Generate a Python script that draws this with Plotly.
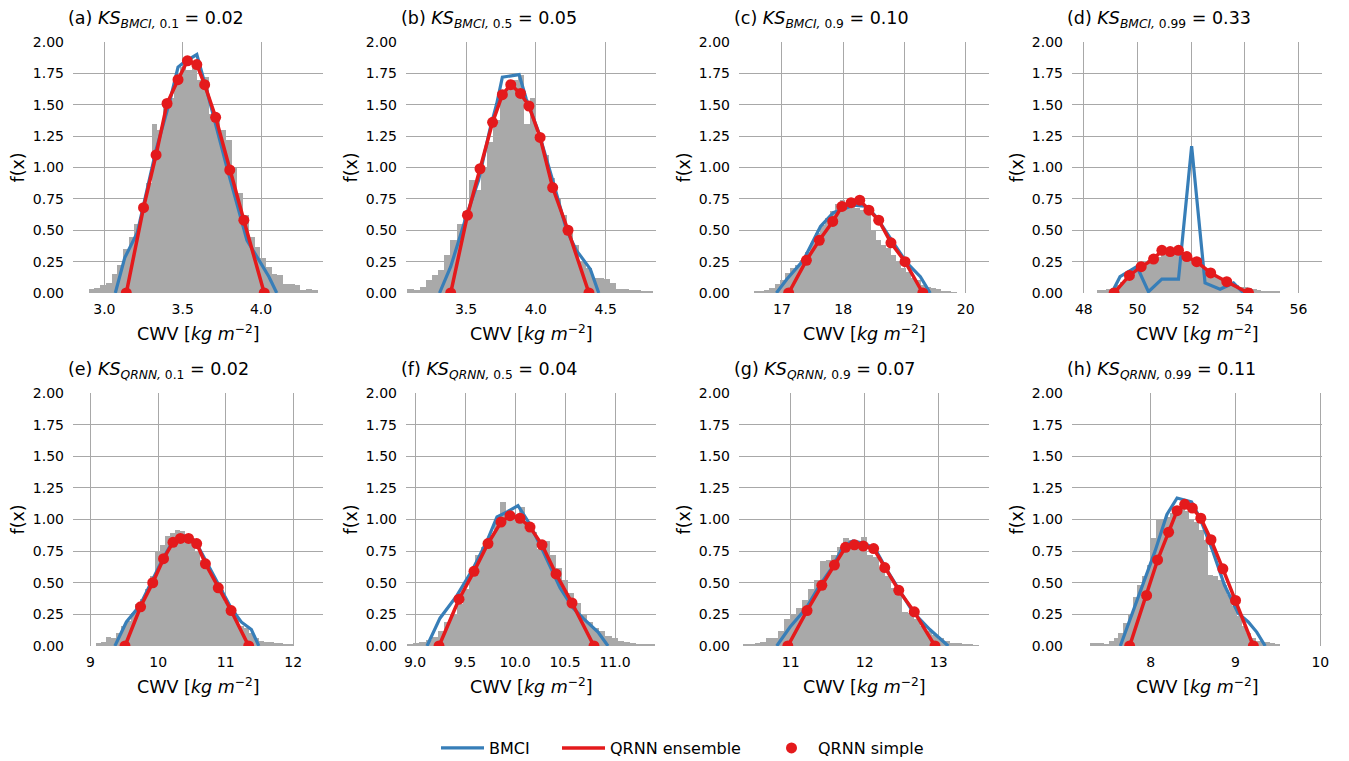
import numpy as np
import plotly.graph_objects as go
from plotly.subplots import make_subplots

# ---------------- data ----------------
panel_letters = ["a", "b", "c", "d", "e", "f", "g", "h"]
panel_methods = ["BMCI"] * 4 + ["QRNN"] * 4
panel_quantiles = ["0.1", "0.5", "0.9", "0.99"] * 2
panel_ks = ["0.02", "0.05", "0.10", "0.33", "0.02", "0.04", "0.07", "0.11"]

x_ranges = [(2.80, 4.395), (3.07, 4.86), (16.30, 20.38), (47.56, 56.88),
            (8.74, 12.44), (8.91, 11.41), (10.30, 13.68), (7.07, 10.02)]
x_ticks = [[3.0, 3.5, 4.0], [3.5, 4.0, 4.5], [17, 18, 19, 20], [48, 50, 52, 54, 56],
           [9, 10, 11, 12], [9.0, 9.5, 10.0, 10.5, 11.0], [11, 12, 13], [8, 9, 10]]
x_tick_labels = [["3.0", "3.5", "4.0"], ["3.5", "4.0", "4.5"], ["17", "18", "19", "20"],
                 ["48", "50", "52", "54", "56"], ["9", "10", "11", "12"],
                 ["9.0", "9.5", "10.0", "10.5", "11.0"], ["11", "12", "13"], ["8", "9", "10"]]
y_ticks = [0.0, 0.25, 0.5, 0.75, 1.0, 1.25, 1.5, 1.75, 2.0]
y_tick_labels = ["0.00", "0.25", "0.50", "0.75", "1.00", "1.25", "1.50", "1.75", "2.00"]

# histogram: (first edge, last edge) and bar heights
hist_a_edges = (2.90, 4.36)
hist_a = [0.03, 0.04, 0.06, 0.08, 0.15, 0.22, 0.35, 0.45, 0.55, 0.68, 0.88, 1.35, 1.30, 1.48,
          1.55, 1.72, 1.80, 1.78, 1.80, 1.70, 1.72, 1.43, 1.40, 1.30, 1.22, 1.00, 0.80, 0.62,
          0.45, 0.37, 0.28, 0.21, 0.15, 0.14, 0.07, 0.07, 0.06, 0.02, 0.03, 0.02]
hist_b_edges = (3.08, 4.84)
hist_b = [0.03, 0.02, 0.05, 0.10, 0.14, 0.18, 0.30, 0.42, 0.55, 0.65, 0.90, 0.82, 1.00, 1.20,
          1.38, 1.55, 1.62, 1.70, 1.74, 1.35, 1.55, 1.25, 1.10, 0.92, 0.75, 0.62, 0.50, 0.38,
          0.25, 0.20, 0.12, 0.12, 0.11, 0.08, 0.03, 0.03, 0.02, 0.02, 0.01, 0.01]
hist_c_edges = (16.55, 19.85)
hist_c = [0.01, 0.01, 0.02, 0.04, 0.07, 0.10, 0.16, 0.20, 0.22, 0.26, 0.33, 0.40, 0.48, 0.54,
          0.60, 0.65, 0.71, 0.74, 0.72, 0.70, 0.68, 0.66, 0.62, 0.50, 0.42, 0.38, 0.36, 0.30,
          0.25, 0.20, 0.17, 0.12, 0.10, 0.06, 0.05, 0.04, 0.03, 0.01, 0.01, 0.005]
hist_d_edges = (48.50, 55.30)
hist_d = [0.02, 0.02, 0.03, 0.04, 0.06, 0.09, 0.12, 0.14, 0.17, 0.20, 0.23, 0.26, 0.28, 0.29,
          0.30, 0.30, 0.31, 0.30, 0.29, 0.28, 0.27, 0.25, 0.22, 0.19, 0.16, 0.13, 0.12, 0.10,
          0.08, 0.07, 0.06, 0.05, 0.05, 0.04, 0.03, 0.02, 0.01, 0.01, 0.01, 0.01]
hist_e_edges = (9.08, 12.00)
hist_e = [0.02, 0.03, 0.07, 0.06, 0.10, 0.16, 0.20, 0.26, 0.33, 0.37, 0.45, 0.55, 0.75, 0.80,
          0.87, 0.89, 0.92, 0.91, 0.88, 0.85, 0.75, 0.68, 0.63, 0.58, 0.50, 0.44, 0.35, 0.26,
          0.22, 0.16, 0.14, 0.10, 0.06, 0.04, 0.03, 0.03, 0.02, 0.02, 0.01, 0.01]
hist_f_edges = (8.92, 11.40)
hist_f = [0.01, 0.02, 0.03, 0.05, 0.07, 0.12, 0.19, 0.25, 0.33, 0.45, 0.55, 0.72, 0.78, 0.88,
          0.98, 1.14, 1.00, 1.02, 1.10, 0.92, 0.90, 0.77, 0.83, 0.72, 0.62, 0.52, 0.42, 0.34,
          0.25, 0.19, 0.14, 0.12, 0.08, 0.06, 0.04, 0.03, 0.02, 0.015, 0.01, 0.01]
hist_g_edges = (10.35, 13.55)
hist_g = [0.01, 0.01, 0.02, 0.03, 0.06, 0.06, 0.12, 0.21, 0.25, 0.30, 0.36, 0.45, 0.52, 0.67,
          0.68, 0.72, 0.78, 0.85, 0.84, 0.80, 0.86, 0.72, 0.70, 0.62, 0.55, 0.46, 0.40, 0.27,
          0.26, 0.21, 0.16, 0.12, 0.09, 0.06, 0.04, 0.02, 0.02, 0.01, 0.01, 0.005]
hist_h_edges = (7.28, 9.52)
hist_h = [0.02, 0.02, 0.02, 0.01, 0.04, 0.06, 0.10, 0.18, 0.25, 0.39, 0.48, 0.55, 0.64, 0.85,
          1.00, 1.00, 1.02, 1.05, 1.08, 1.10, 1.07, 1.00, 0.98, 0.92, 0.84, 0.56, 0.55, 0.52,
          0.48, 0.40, 0.32, 0.24, 0.16, 0.10, 0.06, 0.04, 0.035, 0.03, 0.02, 0.01]

# BMCI posterior PDF
bmci_a_x = [3.07, 3.13, 3.21, 3.33, 3.42, 3.47, 3.51, 3.59, 3.65, 3.78, 3.91, 3.99, 4.05, 4.10]
bmci_a_y = [0.0, 0.28, 0.48, 1.14, 1.54, 1.80, 1.84, 1.90, 1.63, 1.01, 0.42, 0.26, 0.13, 0.0]
bmci_b_x = [3.31, 3.39, 3.51, 3.59, 3.67, 3.72, 3.76, 3.81, 3.88, 3.93, 4.02, 4.13, 4.22, 4.29, 4.39, 4.45]
bmci_b_y = [0.0, 0.21, 0.64, 0.90, 1.30, 1.51, 1.72, 1.73, 1.74, 1.55, 1.28, 0.86, 0.50, 0.34, 0.19, 0.0]
bmci_c_x = [16.91, 17.08, 17.35, 17.63, 17.84, 18.17, 18.39, 18.55, 18.82, 19.04, 19.26, 19.42]
bmci_c_y = [0.0, 0.11, 0.26, 0.53, 0.64, 0.70, 0.69, 0.60, 0.40, 0.24, 0.13, 0.0]
bmci_d_x = [49.04, 49.35, 49.98, 50.41, 50.91, 51.53, 52.02, 52.52, 53.08, 53.58, 53.95]
bmci_d_y = [0.0, 0.13, 0.21, 0.01, 0.11, 0.11, 1.17, 0.08, 0.03, 0.08, 0.0]
bmci_e_x = [9.36, 9.53, 9.73, 9.90, 10.07, 10.22, 10.39, 10.57, 10.71, 10.91, 11.08, 11.23, 11.38, 11.49]
bmci_e_y = [0.0, 0.19, 0.32, 0.51, 0.69, 0.83, 0.87, 0.81, 0.67, 0.48, 0.30, 0.19, 0.13, 0.0]
bmci_f_x = [9.12, 9.25, 9.42, 9.58, 9.72, 9.82, 9.92, 10.03, 10.15, 10.28, 10.45, 10.58, 10.68, 10.83, 10.93]
bmci_f_y = [0.0, 0.22, 0.40, 0.61, 0.83, 1.02, 1.06, 1.11, 0.96, 0.75, 0.46, 0.30, 0.22, 0.11, 0.0]
bmci_g_x = [10.81, 10.99, 11.21, 11.39, 11.57, 11.71, 11.84, 12.00, 12.14, 12.29, 12.47, 12.65, 12.88, 13.13]
bmci_g_y = [0.0, 0.15, 0.30, 0.48, 0.63, 0.79, 0.83, 0.81, 0.77, 0.61, 0.44, 0.27, 0.13, 0.0]
bmci_h_x = [7.64, 7.76, 7.91, 8.05, 8.19, 8.31, 8.48, 8.58, 8.72, 8.87, 9.03, 9.15, 9.25, 9.35]
bmci_h_y = [0.0, 0.22, 0.48, 0.75, 1.04, 1.17, 1.14, 1.01, 0.77, 0.48, 0.26, 0.19, 0.11, 0.0]

# QRNN posterior PDF (ensemble line and simple points coincide)
qrnn_a_x = [3.14, 3.25, 3.33, 3.40, 3.47, 3.53, 3.59, 3.64, 3.71, 3.80, 3.89, 4.02]
qrnn_a_y = [0.0, 0.68, 1.10, 1.51, 1.70, 1.85, 1.82, 1.66, 1.40, 0.98, 0.58, 0.0]
qrnn_b_x = [3.39, 3.51, 3.60, 3.69, 3.76, 3.82, 3.89, 3.95, 4.03, 4.12, 4.23, 4.38]
qrnn_b_y = [0.0, 0.62, 0.99, 1.36, 1.58, 1.66, 1.59, 1.49, 1.24, 0.84, 0.50, 0.0]
qrnn_c_x = [17.11, 17.40, 17.61, 17.83, 17.98, 18.13, 18.27, 18.42, 18.58, 18.78, 19.01, 19.30]
qrnn_c_y = [0.0, 0.26, 0.42, 0.57, 0.69, 0.72, 0.74, 0.66, 0.58, 0.40, 0.25, 0.0]
qrnn_d_x = [49.13, 49.70, 50.14, 50.60, 50.91, 51.22, 51.53, 51.84, 52.21, 52.73, 53.33, 54.14]
qrnn_d_y = [0.0, 0.14, 0.21, 0.27, 0.34, 0.33, 0.34, 0.29, 0.25, 0.16, 0.09, 0.0]
qrnn_e_x = [9.51, 9.74, 9.92, 10.08, 10.22, 10.33, 10.45, 10.57, 10.70, 10.89, 11.08, 11.34]
qrnn_e_y = [0.0, 0.31, 0.50, 0.69, 0.82, 0.85, 0.85, 0.81, 0.65, 0.46, 0.28, 0.0]
qrnn_f_x = [9.24, 9.44, 9.59, 9.73, 9.86, 9.95, 10.05, 10.15, 10.27, 10.41, 10.57, 10.79]
qrnn_f_y = [0.0, 0.37, 0.59, 0.81, 0.98, 1.03, 1.01, 0.94, 0.80, 0.57, 0.34, 0.0]
qrnn_g_x = [10.96, 11.22, 11.42, 11.59, 11.74, 11.86, 11.98, 12.12, 12.27, 12.46, 12.67, 12.95]
qrnn_g_y = [0.0, 0.28, 0.48, 0.64, 0.78, 0.80, 0.79, 0.77, 0.62, 0.44, 0.27, 0.0]
qrnn_h_x = [7.75, 7.95, 8.08, 8.21, 8.31, 8.40, 8.49, 8.59, 8.71, 8.85, 9.00, 9.21]
qrnn_h_y = [0.0, 0.40, 0.68, 0.90, 1.07, 1.12, 1.09, 1.01, 0.84, 0.61, 0.36, 0.0]

hist_edges = [hist_a_edges, hist_b_edges, hist_c_edges, hist_d_edges,
              hist_e_edges, hist_f_edges, hist_g_edges, hist_h_edges]
hist_heights = [hist_a, hist_b, hist_c, hist_d, hist_e, hist_f, hist_g, hist_h]
bmci_xs = [bmci_a_x, bmci_b_x, bmci_c_x, bmci_d_x, bmci_e_x, bmci_f_x, bmci_g_x, bmci_h_x]
bmci_ys = [bmci_a_y, bmci_b_y, bmci_c_y, bmci_d_y, bmci_e_y, bmci_f_y, bmci_g_y, bmci_h_y]
qrnn_xs = [qrnn_a_x, qrnn_b_x, qrnn_c_x, qrnn_d_x, qrnn_e_x, qrnn_f_x, qrnn_g_x, qrnn_h_x]
qrnn_ys = [qrnn_a_y, qrnn_b_y, qrnn_c_y, qrnn_d_y, qrnn_e_y, qrnn_f_y, qrnn_g_y, qrnn_h_y]

# ---------------- styling / layout ----------------
PAGE_OFF = 8                      # default body margin of the html page
W, H = 1349 - PAGE_OFF, 761 - PAGE_OFF
FONT = "DejaVu Sans"
BLUE = "#377eb8"
RED = "#e41a1c"
GRAY = "#a9a9a9"
GRID = "#a8a8a8"
LABEL_SIZE = 17.5


def px_x(p):
    return (p - PAGE_OFF) / W


def px_y(p):
    return 1 - (p - PAGE_OFF) / H


col_left_px = [73, 406, 739, 1072]
col_w_px = 250
row_top_px = [42, 393]
row_bot_px = [293, 646]

fig = make_subplots(rows=2, cols=4, horizontal_spacing=0.05, vertical_spacing=0.1)

for i in range(8):
    r, c = i // 4 + 1, i % 4 + 1
    lo, hi = hist_edges[i]
    heights = np.array(hist_heights[i])
    edges = np.linspace(lo, hi, len(heights) + 1)
    centers = 0.5 * (edges[:-1] + edges[1:])
    width = edges[1] - edges[0]
    fig.add_trace(go.Bar(x=centers, y=heights, width=width,
                         marker=dict(color=GRAY, line=dict(width=0)),
                         showlegend=False, hoverinfo="skip"), row=r, col=c)
    fig.add_trace(go.Scatter(x=bmci_xs[i], y=bmci_ys[i], mode="lines",
                             line=dict(color=BLUE, width=3.2), name="BMCI",
                             showlegend=(i == 0), legend="legend"), row=r, col=c)
    fig.add_trace(go.Scatter(x=qrnn_xs[i], y=qrnn_ys[i], mode="lines",
                             line=dict(color=RED, width=3.5), name="QRNN ensemble",
                             showlegend=(i == 0), legend="legend2"), row=r, col=c)
    fig.add_trace(go.Scatter(x=qrnn_xs[i], y=qrnn_ys[i], mode="markers",
                             marker=dict(color=RED, size=11), name="QRNN simple",
                             showlegend=(i == 0), legend="legend3"), row=r, col=c)

annotations = []
for i in range(8):
    r, c = i // 4, i % 4
    ax_idx = i + 1
    xa = "xaxis" if ax_idx == 1 else f"xaxis{ax_idx}"
    ya = "yaxis" if ax_idx == 1 else f"yaxis{ax_idx}"
    x0 = px_x(col_left_px[c])
    x1 = px_x(col_left_px[c] + col_w_px)
    y1 = px_y(row_top_px[r])
    y0 = px_y(row_bot_px[r])
    fig.layout[xa].update(
        domain=[x0, x1], range=list(x_ranges[i]),
        tickvals=x_ticks[i], ticktext=x_tick_labels[i],
        showgrid=True, gridcolor=GRID, gridwidth=1, zeroline=False, showline=False,
        ticks="", ticklabelstandoff=6, automargin=False,
        tickfont=dict(family=FONT, size=14, color="#000000"))
    fig.layout[ya].update(
        domain=[y0, y1], range=[0, 2.0],
        tickvals=y_ticks, ticktext=y_tick_labels,
        showgrid=True, gridcolor=GRID, gridwidth=1, zeroline=False, showline=False,
        ticks="", ticklabelstandoff=8, automargin=False,
        tickfont=dict(family=FONT, size=14, color="#000000"))
    # panel title
    title = (f"({panel_letters[i]}) <i>KS</i><sub><i>{panel_methods[i]},</i> "
             f"{panel_quantiles[i]}</sub> = {panel_ks[i]}")
    annotations.append(dict(text=title, xref="paper", yref="paper", x=x0, y=y1,
                            xanchor="left", yanchor="bottom", yshift=9, xshift=-7,
                            showarrow=False,
                            font=dict(family=FONT, size=LABEL_SIZE, color="#000000")))
    # x label
    annotations.append(dict(text="CWV [<i>kg m</i><sup>\u22122</sup>]", xref="paper", yref="paper",
                            x=(x0 + x1) / 2, y=y0, xanchor="center", yanchor="middle",
                            yshift=-40, showarrow=False,
                            font=dict(family=FONT, size=LABEL_SIZE, color="#000000")))
    # y label
    annotations.append(dict(text="f(x)", xref="paper", yref="paper", x=x0, y=(y0 + y1) / 2,
                            xanchor="center", yanchor="middle", xshift=-56, textangle=-90,
                            showarrow=False, font=dict(family=FONT, size=LABEL_SIZE, color="#000000")))

legend_common = dict(orientation="h", yanchor="middle", y=px_y(748), xanchor="left",
                     bgcolor="rgba(0,0,0,0)", itemwidth=43,
                     font=dict(family=FONT, size=16, color="#000000"))
fig.update_layout(
    width=W, height=H,
    margin=dict(l=0, r=0, t=0, b=0, pad=0, autoexpand=False),
    paper_bgcolor="white", plot_bgcolor="white",
    barmode="overlay", bargap=0,
    annotations=annotations,
    legend=dict(x=px_x(436), **legend_common),
    legend2=dict(x=px_x(557), **legend_common),
    legend3=dict(x=px_x(765), **legend_common),
    font=dict(family=FONT, size=14, color="#000000"),
)

fig.write_html("out.html")
